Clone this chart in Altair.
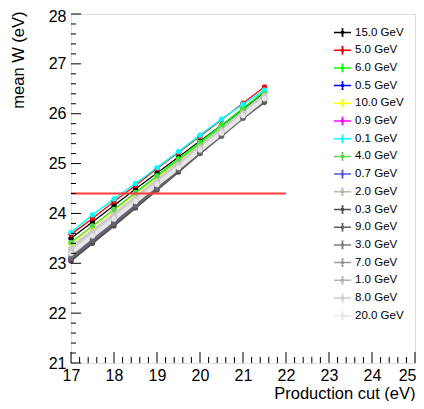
import altair as alt
import pandas as pd
import numpy as np

cuts = [17.0, 17.5, 18.0, 18.5, 19.0, 19.5, 20.0, 20.5, 21.0, 21.5]

energies = ["15.0 GeV", "5.0 GeV", "6.0 GeV", "0.5 GeV", "10.0 GeV", "0.9 GeV",
            "0.1 GeV", "4.0 GeV", "0.7 GeV", "2.0 GeV", "0.3 GeV", "9.0 GeV",
            "3.0 GeV", "7.0 GeV", "1.0 GeV", "8.0 GeV", "20.0 GeV"]

colors = ["#000000", "#ff0000", "#00ff00", "#0000ff", "#ffff00", "#ff00ff",
          "#00ffff", "#59d454", "#5954d9", "#c0b6ac", "#4d4d4d", "#666666",
          "#808080", "#999999", "#b3b3b3", "#cccccc", "#e6e6e6"]

line_widths = [1.3, 1.3, 1.3, 1.3, 1.3, 1.3, 1.5, 1.3, 1.3, 2.5, 1.8, 2.5,
               3.0, 3.5, 4.0, 4.5, 4.0]

w_15_0 = [23.50, 23.83, 24.16, 24.49, 24.81, 25.13, 25.45, 25.77, 26.09, 26.42]
w_5_0 = [23.58, 23.90, 24.24, 24.56, 24.90, 25.22, 25.55, 25.88, 26.21, 26.54]
w_6_0 = [23.40, 23.74, 24.08, 24.42, 24.76, 25.10, 25.43, 25.77, 26.11, 26.45]
w_0_5 = [23.07, 23.43, 23.81, 24.17, 24.50, 24.87, 25.23, 25.59, 25.95, 26.30]
w_10_0 = [23.40, 23.73, 24.06, 24.39, 24.72, 25.05, 25.38, 25.71, 26.05, 26.38]
w_0_9 = [23.05, 23.41, 23.77, 24.13, 24.49, 24.85, 25.21, 25.57, 25.93, 26.29]
w_0_1 = [23.62, 23.97, 24.29, 24.60, 24.92, 25.24, 25.57, 25.89, 26.19, 26.48]
w_4_0 = [23.42, 23.75, 24.08, 24.41, 24.74, 25.07, 25.40, 25.73, 26.07, 26.40]
w_0_7 = [23.12, 23.48, 23.83, 24.19, 24.54, 24.89, 25.24, 25.60, 25.95, 26.30]
w_2_0 = [23.30, 23.64, 23.98, 24.32, 24.66, 25.00, 25.34, 25.68, 26.02, 26.36]
w_0_3 = [23.05, 23.40, 23.75, 24.11, 24.47, 24.83, 25.20, 25.55, 25.91, 26.23]
w_9_0 = [23.10, 23.45, 23.80, 24.15, 24.50, 24.86, 25.21, 25.56, 25.92, 26.26]
w_3_0 = [23.18, 23.53, 23.88, 24.23, 24.58, 24.93, 25.28, 25.63, 25.98, 26.32]
w_7_0 = [23.22, 23.57, 23.91, 24.26, 24.60, 24.94, 25.29, 25.63, 25.98, 26.33]
w_1_0 = [23.25, 23.59, 23.93, 24.27, 24.61, 24.95, 25.30, 25.64, 25.98, 26.33]
w_8_0 = [23.30, 23.63, 23.97, 24.30, 24.64, 24.98, 25.32, 25.66, 26.00, 26.36]
w_20_0 = [23.20, 23.55, 23.89, 24.24, 24.58, 24.92, 25.27, 25.61, 25.96, 26.30]

series = [w_15_0, w_5_0, w_6_0, w_0_5, w_10_0, w_0_9, w_0_1, w_4_0, w_0_7,
          w_2_0, w_0_3, w_9_0, w_3_0, w_7_0, w_1_0, w_8_0, w_20_0]

ref_x = [17.0, 22.0]
ref_w = 24.4

x_major = [17, 18, 19, 20, 21, 22, 23, 24, 25]
y_major = [21, 22, 23, 24, 25, 26, 27, 28]
x_minor = [round(v, 1) for v in np.arange(17.0, 25.01, 0.2)]
y_minor = [round(v, 1) for v in np.arange(21.0, 28.01, 0.2)]

XMIN, XMAX, YMIN, YMAX = 17, 25, 21, 28
W, H = 344, 349
FONT = "Liberation Sans"

rows = []
for i, (e, vals) in enumerate(zip(energies, series)):
    for c, v in zip(cuts, vals):
        rows.append({"energy": e, "cut": c, "w": v, "order": i, "lw": line_widths[i]})
df = pd.DataFrame(rows)

xs = alt.Scale(domain=[XMIN, XMAX], nice=False, zero=False)
ys = alt.Scale(domain=[YMIN, YMAX], nice=False, zero=False)

sym = ("M-1,0H1M0,-0.42V0.42M-0.12,-0.42H0.12M-0.12,0.42H0.12"
       "M0.14,0A0.14,0.14,0,1,1,-0.14,0A0.14,0.14,0,1,1,0.14,0")

lines = alt.Chart(df).mark_line(
    point=alt.OverlayMarkDef(filled=True, size=28)
).encode(
    x=alt.X("cut:Q", scale=xs,
            axis=alt.Axis(values=x_major, ticks=False, domain=False, grid=False,
                          labelFontSize=16, labelFont=FONT, labelColor="black",
                          labelPadding=4, title="Production cut (eV)",
                          labelAlign={"condition": {"test": f"datum.value >= {XMAX}",
                                                    "value": "right"},
                                      "value": "center"},
                          labelOffset={"condition": {"test": f"datum.value >= {XMAX}",
                                                     "value": 1},
                                       "value": 0},
                          titleFont=FONT, titleFontSize=16.5, titleFontWeight="normal",
                          titleColor="black", titleAnchor="end", titleAlign="right",
                          titleX=W, titleY=30, titleBaseline="middle",
                          labelFlush=False, labelOverlap=False)),
    y=alt.Y("w:Q", scale=ys,
            axis=alt.Axis(values=y_major, ticks=False, domain=False, grid=False,
                          labelFontSize=16, labelFont=FONT, labelColor="black",
                          labelPadding=5, title="mean W (eV)",
                          labelOffset={"condition": {"test": f"datum.value >= {YMAX}",
                                                     "value": 2},
                                       "value": 0},
                          titleFont=FONT, titleFontSize=16.5, titleFontWeight="normal",
                          titleColor="black", titleAngle=-90, titleAlign="right",
                          titleBaseline="middle", titleX=-53, titleY=-3,
                          labelFlush=False, labelOverlap=False)),
    color=alt.Color("energy:N",
                    scale=alt.Scale(domain=energies, range=colors),
                    sort=energies,
                    legend=alt.Legend(orient="none", legendX=262, legendY=9,
                                      title=None, symbolType=sym, symbolSize=289,
                                      symbolStrokeWidth=1.5, labelFont=FONT,
                                      labelFontSize=11.5, labelColor="black",
                                      labelOffset=3, rowPadding=0.7, padding=0)),
    strokeWidth=alt.StrokeWidth("lw:Q", scale=None, legend=None),
    order=alt.Order("order:Q"),
    detail="order:Q",
)

ref = pd.DataFrame({"cut": ref_x, "w": [ref_w, ref_w]})
refline = alt.Chart(ref).mark_line(color="#ff3b3b", strokeWidth=1.8).encode(
    x=alt.X("cut:Q", scale=xs), y=alt.Y("w:Q", scale=ys))

xmaj_len, xmin_len = 11 / H * (YMAX - YMIN), 6 / H * (YMAX - YMIN)
ymaj_len, ymin_len = 10 / W * (XMAX - XMIN), 5 / W * (XMAX - XMIN)

xt = pd.DataFrame({"t": x_minor})
xt["major"] = xt["t"].apply(lambda v: abs(v - round(v)) < 1e-6)
xt["y0"] = YMIN
xt["y1"] = np.where(xt["major"], YMIN + xmaj_len, YMIN + xmin_len)
xticks = alt.Chart(xt).mark_rule(color="black", strokeWidth=1).encode(
    x=alt.X("t:Q", scale=xs), y=alt.Y("y0:Q", scale=ys), y2="y1:Q")

yt = pd.DataFrame({"t": y_minor})
yt["major"] = yt["t"].apply(lambda v: abs(v - round(v)) < 1e-6)
yt["x0"] = XMIN
yt["x1"] = np.where(yt["major"], XMIN + ymaj_len, XMIN + ymin_len)
yticks = alt.Chart(yt).mark_rule(color="black", strokeWidth=1).encode(
    y=alt.Y("t:Q", scale=ys), x=alt.X("x0:Q", scale=xs), x2="x1:Q")

chart = alt.layer(lines, refline, xticks, yticks).properties(
    width=W, height=H,
    autosize=alt.AutoSizeParams(type="none"),
    padding={"left": 63, "top": 6, "right": 1, "bottom": 38},
).configure_view(stroke="black", strokeWidth=1).configure(background="white")

chart.save("out.html", embed_options={"renderer": "svg", "actions": False})
